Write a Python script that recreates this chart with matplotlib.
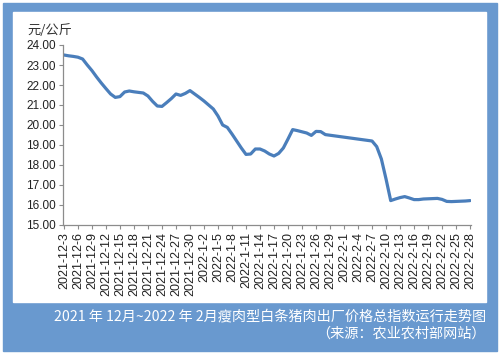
import matplotlib
matplotlib.use('Agg')
import matplotlib.pyplot as plt
from matplotlib.patches import Rectangle
import datetime as dt

# daily price index, 2021-12-3 .. 2022-2-28 (None = no quote, holiday)
start_date = dt.date(2021, 12, 3)
prices = [
    23.50, 23.46, 23.43, 23.39, 23.30, 23.00, 22.72, 22.40, 22.10, 21.82,
    21.55, 21.38, 21.42, 21.65, 21.70, 21.66, 21.63, 21.60, 21.45, 21.18,
    20.95, 20.93, 21.12, 21.32, 21.55, 21.48, 21.58, 21.72, 21.55, 21.38,
    21.20, 21.00, 20.80, 20.45, 20.00, 19.88, 19.55, 19.20, 18.85, 18.53,
    18.55, 18.80, 18.80, 18.70, 18.55, 18.45, 18.58, 18.85, 19.30, 19.77,
    19.72, 19.66, 19.60, 19.48, 19.68, 19.67, 19.52, None, None, None,
    None, None, None, None, None, None, 19.20, 18.92, 18.30, 17.30,
    16.22, 16.30, 16.37, 16.42, 16.35, 16.27, 16.27, 16.30, 16.31, 16.32,
    16.33, 16.28, 16.18, 16.17, 16.18, 16.19, 16.20, 16.22,
]
y_ticks = [15, 16, 17, 18, 19, 20, 21, 22, 23, 24]
unit_label = '元/公斤'
caption1 = '2021 年 12月~2022 年 2月瘦肉型白条猪肉出厂价格总指数运行走势图'
caption2 = '（来源：农业农村部网站）'

W, H = 500, 356
frame_blue = '#6999cf'
line_blue = '#4a7ebb'


def fx(px):
    return px / W


def fy(py):
    return 1 - py / H


fig = plt.figure(figsize=(W / 100, H / 100), dpi=100)
fig.patch.set_facecolor('white')
fig.patches.append(Rectangle((fx(3), fy(351)), fx(494), 348 / H,
                             transform=fig.transFigure, color=frame_blue, zorder=-2))
fig.patches.append(Rectangle((fx(13), fy(302)), fx(473), 290 / H,
                             transform=fig.transFigure, color='white', zorder=-1))

ax = fig.add_axes([fx(63), fy(225), fx(408), 180 / H])
ax.set_facecolor('none')
ax.set_zorder(2)

days = [i for i, v in enumerate(prices) if v is not None]
vals = [v for v in prices if v is not None]
ax.plot(days, vals, color=line_blue, lw=2.3, solid_joinstyle='round', solid_capstyle='round')

ax.set_xlim(-0.2, len(prices) - 0.8)
ax.set_ylim(15, 24)

tick_pos = list(range(0, len(prices), 3))
tick_lbl = []
for i in tick_pos:
    d = start_date + dt.timedelta(days=i)
    tick_lbl.append(f'{d.year}-{d.month}-{d.day}')
ax.set_xticks(tick_pos)
ax.set_xticklabels(tick_lbl, rotation=90, fontsize=9, family='Liberation Sans', color='#222222')
ax.set_yticks(y_ticks)
ax.set_yticklabels([f'{v:.2f}' for v in y_ticks], fontsize=8.5, family='Liberation Sans', color='#222222')

for s in ['top', 'right']:
    ax.spines[s].set_visible(False)
for s in ['left', 'bottom']:
    ax.spines[s].set_color('#8c8c8c')
    ax.spines[s].set_linewidth(0.9)
ax.tick_params(axis='both', direction='out', length=3, width=0.8, color='#8c8c8c', pad=2)

fig.text(fx(27), fy(31), unit_label, fontsize=9.5, family=['Noto Sans CJK SC', 'DejaVu Sans'],
         color='#333333', va='center', ha='left')
fig.text(fx(486), fy(316), caption1, fontsize=10.2, family=['Noto Sans CJK SC', 'DejaVu Sans'],
         color='white', va='center', ha='right')
fig.text(fx(486), fy(334), caption2, fontsize=10.2, family=['Noto Sans CJK SC', 'DejaVu Sans'],
         color='white', va='center', ha='right')

fig.savefig('out.png', dpi=100)
